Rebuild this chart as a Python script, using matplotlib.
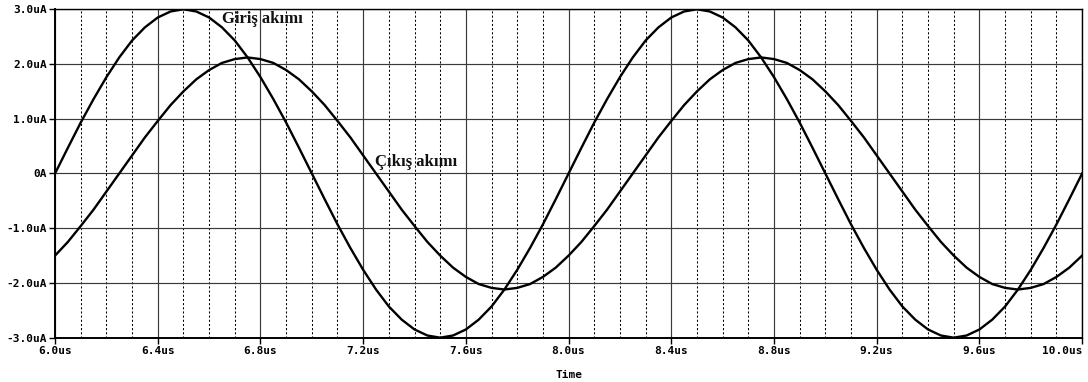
import matplotlib
matplotlib.use("Agg")
import matplotlib.pyplot as plt
from matplotlib.ticker import FixedLocator

# sample times (us)
time_us = [
    6.00, 6.05, 6.10, 6.15, 6.20, 6.25, 6.30, 6.35, 6.40, 6.45,
    6.50, 6.55, 6.60, 6.65, 6.70, 6.75, 6.80, 6.85, 6.90, 6.95,
    7.00, 7.05, 7.10, 7.15, 7.20, 7.25, 7.30, 7.35, 7.40, 7.45,
    7.50, 7.55, 7.60, 7.65, 7.70, 7.75, 7.80, 7.85, 7.90, 7.95,
    8.00, 8.05, 8.10, 8.15, 8.20, 8.25, 8.30, 8.35, 8.40, 8.45,
    8.50, 8.55, 8.60, 8.65, 8.70, 8.75, 8.80, 8.85, 8.90, 8.95,
    9.00, 9.05, 9.10, 9.15, 9.20, 9.25, 9.30, 9.35, 9.40, 9.45,
    9.50, 9.55, 9.60, 9.65, 9.70, 9.75, 9.80, 9.85, 9.90, 9.95,
    10.00,
]

# input current (uA)
giris_uA = [
    0.00, 0.47, 0.93, 1.36, 1.76, 2.12, 2.43, 2.67, 2.85, 2.96,
    3.00, 2.96, 2.85, 2.67, 2.43, 2.12, 1.76, 1.36, 0.93, 0.47,
    0.00, -0.47, -0.93, -1.36, -1.76, -2.12, -2.43, -2.67, -2.85, -2.96,
    -3.00, -2.96, -2.85, -2.67, -2.43, -2.12, -1.76, -1.36, -0.93, -0.47,
    0.00, 0.47, 0.93, 1.36, 1.76, 2.12, 2.43, 2.67, 2.85, 2.96,
    3.00, 2.96, 2.85, 2.67, 2.43, 2.12, 1.76, 1.36, 0.93, 0.47,
    0.00, -0.47, -0.93, -1.36, -1.76, -2.12, -2.43, -2.67, -2.85, -2.96,
    -3.00, -2.96, -2.85, -2.67, -2.43, -2.12, -1.76, -1.36, -0.93, -0.47,
    0.00,
]

# output current (uA)
cikis_uA = [
    -1.50, -1.25, -0.96, -0.66, -0.33, 0.00, 0.33, 0.66, 0.96, 1.25,
    1.50, 1.72, 1.89, 2.02, 2.09, 2.12, 2.09, 2.02, 1.89, 1.72,
    1.50, 1.25, 0.96, 0.66, 0.33, 0.00, -0.33, -0.66, -0.96, -1.25,
    -1.50, -1.72, -1.89, -2.02, -2.09, -2.12, -2.09, -2.02, -1.89, -1.72,
    -1.50, -1.25, -0.96, -0.66, -0.33, 0.00, 0.33, 0.66, 0.96, 1.25,
    1.50, 1.72, 1.89, 2.02, 2.09, 2.12, 2.09, 2.02, 1.89, 1.72,
    1.50, 1.25, 0.96, 0.66, 0.33, 0.00, -0.33, -0.66, -0.96, -1.25,
    -1.50, -1.72, -1.89, -2.02, -2.09, -2.12, -2.09, -2.02, -1.89, -1.72,
    -1.50,
]

x_ticks = [6.0, 6.4, 6.8, 7.2, 7.6, 8.0, 8.4, 8.8, 9.2, 9.6, 10.0]
x_labels = ["6.0us", "6.4us", "6.8us", "7.2us", "7.6us", "8.0us",
            "8.4us", "8.8us", "9.2us", "9.6us", "10.0us"]
y_ticks = [-3, -2, -1, 0, 1, 2, 3]
y_labels = ["-3.0uA", "-2.0uA", "-1.0uA", "0A", "1.0uA", "2.0uA", "3.0uA"]

fig = plt.figure(figsize=(10.88, 3.82), dpi=100)
ax = fig.add_axes([0.0506, 0.116, 0.944, 0.8597])

# grid: dotted minor verticals every 0.1us, solid majors
minor_x = [t / 10 for t in range(60, 101) if t % 4 != 0]
for xm in minor_x:
    ax.axvline(xm, color="black", lw=0.75, ls=(0, (2.0, 2.0)), zorder=1)
for xt in x_ticks:
    ax.axvline(xt, color="#3a3a3a", lw=0.85, zorder=1)
for yt in y_ticks:
    ax.axhline(yt, color="#3a3a3a", lw=0.85, zorder=1)

ax.plot(time_us, giris_uA, color="black", lw=1.7, zorder=3)
ax.plot(time_us, cikis_uA, color="black", lw=1.7, zorder=3)

ax.set_xlim(6.0, 10.0)
ax.set_ylim(-3.0, 3.0)
ax.xaxis.set_major_locator(FixedLocator(x_ticks))
ax.yaxis.set_major_locator(FixedLocator(y_ticks))
ax.set_xticklabels(x_labels)
ax.set_yticklabels(y_labels)

mono = dict(family="DejaVu Sans Mono", weight="bold", size=8)
for lbl in ax.get_xticklabels() + ax.get_yticklabels():
    lbl.set_fontfamily(mono["family"])
    lbl.set_fontweight(mono["weight"])
    lbl.set_fontsize(mono["size"])
# last time label sits flush with the right edge
ax.get_xticklabels()[-1].set_horizontalalignment("right")
ax.tick_params(axis="both", direction="out", length=4, width=1.0,
               color="black", pad=2)
ax.set_xlabel("Time", fontdict=mono, labelpad=10)

for s in ax.spines.values():
    s.set_color("black")
    s.set_linewidth(1.0)
ax.spines["left"].set_linewidth(1.4)
ax.spines["bottom"].set_linewidth(1.4)

serif = dict(family="Liberation Serif", weight="bold", size=12, color="#111111")
ax.text(6.65, 2.82, "Giriş akımı", va="center", ha="left", zorder=4, **serif)
ax.text(7.246, 0.21, "Çıkış akımı", va="center", ha="left", zorder=4, **serif)

fig.savefig("out.png", dpi=100)
